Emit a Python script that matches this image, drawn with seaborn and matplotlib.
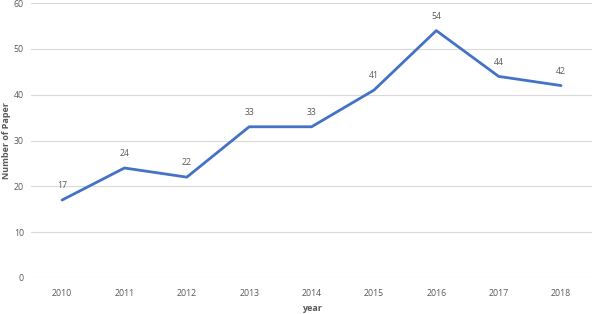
import matplotlib
matplotlib.use("Agg")
import matplotlib.pyplot as plt
import seaborn as sns
import pandas as pd

# data
years = ["2010", "2011", "2012", "2013", "2014", "2015", "2016", "2017", "2018"]
papers = [17, 24, 22, 33, 33, 41, 54, 44, 42]

df = pd.DataFrame({"year": years, "papers": papers})

sns.set_style("white")
plt.rcParams["font.family"] = ["Open Sans", "DejaVu Sans"]

fig = plt.figure(figsize=(5.94, 3.14), dpi=100)
ax = fig.add_axes([0.052, 0.115, 0.945, 0.875])

sns.lineplot(data=df, x="year", y="papers", ax=ax, color="#4472C4", linewidth=2.0, sort=False)

for i, v in enumerate(papers):
    ax.annotate(str(v), (i, v), xytext=(0, 7), textcoords="offset points",
                ha="center", va="bottom", fontsize=6.3, color="#595959")

ax.set_xlim(-0.5, len(years) - 0.5)
ax.set_ylim(0, 60)
ax.set_yticks(range(0, 61, 10))
ax.grid(axis="y", color="#D9D9D9", linewidth=0.8)
ax.set_axisbelow(True)
for s in ax.spines.values():
    s.set_visible(False)
ax.tick_params(axis="x", length=0, labelsize=6.3, labelcolor="#595959", pad=8)
ax.tick_params(axis="y", length=0, labelsize=6.3, labelcolor="#595959", pad=5)

ax.set_xlabel("year", fontsize=6.5, fontweight="bold", color="#595959", labelpad=4)
ax.set_ylabel("Number of Paper", fontsize=6.5, fontweight="bold", color="#595959")
ax.yaxis.set_label_coords(-0.036, 0.5)

fig.savefig("out.png", dpi=100)
